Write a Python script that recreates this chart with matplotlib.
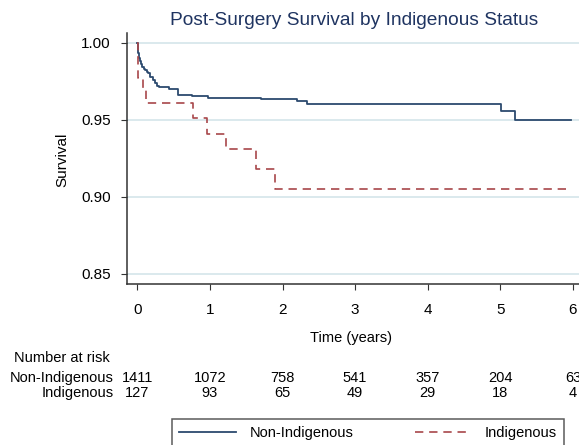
import matplotlib
matplotlib.use("Agg")
import matplotlib.pyplot as plt
from matplotlib.transforms import blended_transform_factory

plt.rcParams['font.family'] = ['Liberation Sans', 'DejaVu Sans']

# Kaplan-Meier steps
non_ind_t = [0, 0.01, 0.02, 0.03, 0.05, 0.07, 0.09, 0.11, 0.13, 0.15, 0.18, 0.21,
             0.24, 0.27, 0.30, 0.43, 0.565, 0.75, 0.98, 1.71, 2.20, 2.34, 5.01, 5.20, 5.97]
non_ind_s = [1.0, 0.993, 0.990, 0.988, 0.986, 0.984, 0.983, 0.982, 0.981, 0.980, 0.978, 0.976,
             0.974, 0.972, 0.971, 0.970, 0.966, 0.9655, 0.964, 0.9633, 0.962, 0.960, 0.9555, 0.950, 0.950]
ind_t = [0, 0.005, 0.074, 0.115, 0.76, 0.965, 1.22, 1.63, 1.89, 5.97]
ind_s = [1.0, 0.977, 0.969, 0.961, 0.951, 0.9405, 0.931, 0.918, 0.905, 0.905]

years = [0, 1, 2, 3, 4, 5, 6]
yticks = [0.85, 0.90, 0.95, 1.00]
risk_non_ind = [1411, 1072, 758, 541, 357, 204, 63]
risk_ind = [127, 93, 65, 49, 29, 18, 4]

navy = '#2c4a6e'
red = '#a8474a'
grid = '#d4e5ea'

fig = plt.figure(figsize=(5.79, 4.45), dpi=100)
ax = fig.add_axes([0.2199, 0.3618, 0.7801, 0.5632])

for y in yticks:
    ax.axhline(y, color=grid, lw=1.2, zorder=0)

ax.plot(non_ind_t, non_ind_s, drawstyle='steps-post', color=navy, lw=1.3, label='Non-Indigenous')
ax.plot(ind_t, ind_s, drawstyle='steps-post', color=red, lw=1.2, dashes=(5, 3.5), label='Indigenous')

ax.set_xlim(-0.138, 6.084)
ax.set_ylim(0.8435, 1.006)
ax.set_xticks(years)
ax.set_yticks(yticks)
ax.set_yticklabels(['%.2f' % v for v in yticks])
ax.spines['top'].set_visible(False)
ax.spines['right'].set_visible(False)
for s in ['left', 'bottom']:
    ax.spines[s].set_color('#333333')
    ax.spines[s].set_linewidth(1.1)
ax.tick_params(axis='y', length=4, pad=8, labelsize=11, color='#333333')
ax.tick_params(axis='x', length=4, pad=9.5, labelsize=11, color='#333333')

fig.text(0.612, 0.955, 'Post-Surgery Survival by Indigenous Status', ha='center', va='center',
         fontsize=13.8, color='#1f3461')
fig.text(62 / 579, 1 - 160 / 445, 'Survival', rotation=90, ha='center', va='center', fontsize=11)
fig.text(351 / 579, 1 - 338 / 445, 'Time (years)', ha='center', va='center', fontsize=10.5)

# number at risk table
tr = blended_transform_factory(ax.transData, fig.transFigure)
fig.text(14 / 579, 1 - 358 / 445, 'Number at risk', ha='left', va='center', fontsize=10.5)
fig.text(114 / 579, 1 - 378 / 445, 'Non-Indigenous', ha='right', va='center', fontsize=10.5)
fig.text(114 / 579, 1 - 393 / 445, 'Indigenous', ha='right', va='center', fontsize=10.5)
for t, a, b in zip(years, risk_non_ind, risk_ind):
    ax.text(t, 1 - 378 / 445, str(a), transform=tr, ha='center', va='center', fontsize=10.5, clip_on=False)
    ax.text(t, 1 - 393 / 445, str(b), transform=tr, ha='center', va='center', fontsize=10.5, clip_on=False)

leg_top = 1 - 419 / 445
leg = fig.legend(loc='upper left', bbox_to_anchor=(172 / 579, leg_top - 0.1, 392 / 579, 0.1),
                 mode='expand', ncol=2, fontsize=10.5, handlelength=3.9, frameon=True,
                 fancybox=False, borderpad=0.5, handletextpad=0.9, borderaxespad=0)
leg.get_frame().set_edgecolor('#333333')
leg.get_frame().set_linewidth(1.1)

fig.savefig('out.png', dpi=100)
